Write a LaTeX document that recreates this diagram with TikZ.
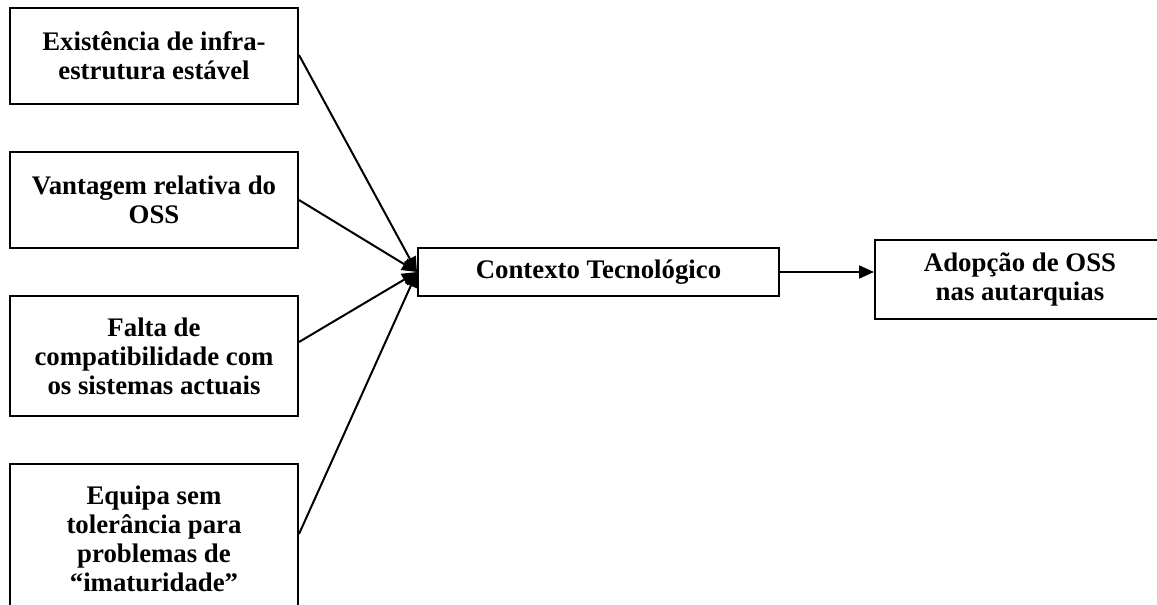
\documentclass[tikz,border=0pt]{standalone}
\usepackage{fontspec}
\setmainfont{Liberation Serif}
\usepackage{tikz}
\usetikzlibrary{positioning, arrows.meta}

\begin{document}
\begin{tikzpicture}[x=0.5pt, y=-0.5pt, line width=1pt,
    box/.style = {draw, rectangle, inner sep=0pt, align=center,
        font=\fontsize{13.4}{14.5}\selectfont\bfseries},
    factor/.style = {box, minimum width=144pt},
    link/.style = {-{Triangle[length=7.5pt, width=6.5pt]}}]
                \useasboundingbox (0,0) rectangle (1157,605);

                % Nodes
                \node[factor, minimum height=48pt] (infra) at (154,56) {Existência de infra-\\estrutura estável};
                \node[factor, minimum height=48pt] (vant) [below=23pt of infra] {Vantagem relativa do\\OSS};
                \node[factor, minimum height=60pt] (compat) [below=23pt of vant] {Falta de\\compatibilidade com\\os sistemas actuais};
                \node[factor, minimum height=75pt] (equipa) [below=23pt of compat] {Equipa sem\\tolerância para\\problemas de\\“imaturidade”};
                \node[box, minimum width=180.5pt, minimum height=24pt] (ctx) at (598.5,272) {Contexto Tecnológico};
                \node[box, minimum width=145pt, minimum height=39.5pt] (adop) [right=47pt of ctx, yshift=-3.75pt] {Adopção de OSS\\nas autarquias};

                % Lines
                \draw[link] ([yshift=0.5pt]infra.east) -- (ctx.west);
                \draw[link] (vant.east) -- (ctx.west);
                \draw[link] ([yshift=7pt]compat.east) -- (ctx.west);
                \draw[link] ([yshift=2.5pt]equipa.east) -- (ctx.west);
                \draw[link] (ctx.east) -- (ctx.east -| adop.west);
            \end{tikzpicture}
\end{document}
